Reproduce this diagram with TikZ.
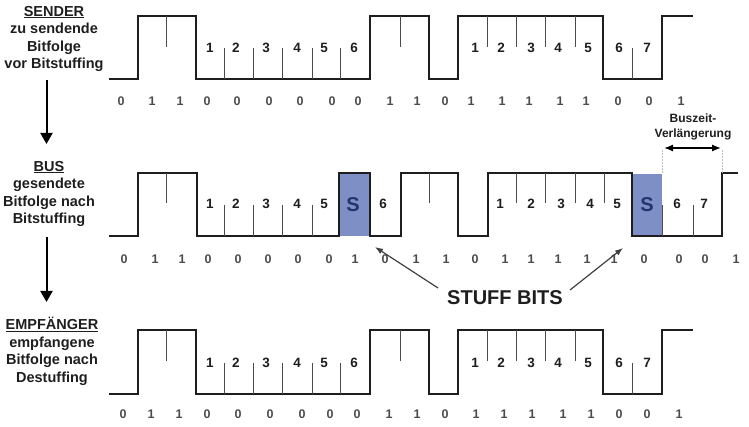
\documentclass[tikz,border=0pt]{standalone}
\usepackage{fontspec}
\setmainfont{Liberation Sans}
\usetikzlibrary{arrows.meta}
\definecolor{stuffblue}{HTML}{7D8FC4}
\definecolor{sink}{HTML}{22356F}
\definecolor{ink}{HTML}{1E1E1E}
\tikzset{
  wave/.style={draw=ink,line width=1.5pt,line join=miter},
  tick/.style={draw=ink!80,line width=1pt},
  num/.style={font=\bfseries\fontsize{13.5}{14}\selectfont,text=ink,inner sep=0pt},
  bit/.style={font=\fontsize{12.5}{13}\selectfont\bfseries,text=ink!80,inner sep=0pt},
  sbit/.style={font=\bfseries\fontsize{20}{20}\selectfont,text=sink,inner sep=0pt},
  sidelabel/.style={font=\bfseries\fontsize{14.5}{17.6}\selectfont,text=ink,align=center,inner sep=0pt},
  flow/.style={draw=black,line width=2pt,-{Triangle[length=11pt,width=12pt]},shorten >=0pt},
  pointer/.style={draw=ink!85,line width=1.2pt,-{Latex[length=8pt,width=6pt]}},
  span/.style={draw=black,line width=1.3pt,{Latex[length=9pt,width=7pt]}-{Latex[length=9pt,width=7pt]}},
  guide/.style={draw=black!25,line width=.5pt,densely dotted}
}
\newcommand{\senderwave}[2]{% high y, low y
  \draw[wave] (109,#2) -- (138,#2) -- (138,#1) -- (196,#1) -- (196,#2) -- (370,#2) -- (370,#1)
     -- (429,#1) -- (429,#2) -- (458,#2) -- (458,#1) -- (603,#1) -- (603,#2) -- (662,#2) -- (662,#1) -- (693,#1);
  \foreach \tx in {166,400,487,516,545,575} \draw[tick] (\tx,#1) -- (\tx,#1+31);
  \foreach \tx in {224,253,282,312,340,632} \draw[tick] (\tx,#2) -- (\tx,#2-31);
}
\begin{document}
\begin{tikzpicture}[x=1pt,y=-1pt]
\useasboundingbox (0,0) rectangle (749,427);
% row 1 and row 3
\senderwave{16}{79}
\senderwave{330}{394}
% row 2
\fill[stuffblue] (339,174) rectangle (370,236);
\fill[stuffblue] (632,174) rectangle (662,236);
\draw[wave] (109,236) -- (138,236) -- (138,173) -- (197,173) -- (197,236) -- (339,236) -- (339,173) -- (370,173) -- (370,236)
  -- (401,236) -- (401,173) -- (458,173) -- (458,236) -- (488,236) -- (488,173) -- (632,173) -- (632,236) -- (722,236) -- (722,173) -- (738,173);
\foreach \tx in {166,429,516,545,575,604} \draw[tick] (\tx,173) -- (\tx,203);
\foreach \tx in {224,253,282,312,662,693} \draw[tick] (\tx,236) -- (\tx,205);
% segment numbers
\foreach \tx/\t [count=\i] in {210/1,236/2,266/3,297/4,324/5,354/6,475/1,501/2,531/3,558/4,588/5,619/6,647/7}
  \node[num] (na\i) at (\tx,48) {\t};
\foreach \tx/\t [count=\i] in {210/1,236/2,266/3,297/4,324/5,383/6,500/1,531/2,561/3,590/4,617/5,677/6,704/7}
  \node[num] (nb\i) at (\tx,204) {\t};
\foreach \tx/\t [count=\i] in {210/1,236/2,266/3,297/4,324/5,354/6,475/1,501/2,531/3,558/4,588/5,619/6,647/7}
  \node[num] (nc\i) at (\tx,363) {\t};
\node[sbit] (s1) at (353,205) {S};
\node[sbit] (s2) at (647,205) {S};
% bit values
\foreach \tx/\t [count=\i] in {121/0,152/1,180/1,207/0,237/0,269/0,300/0,332/0,358/0,390/1,417/1,445/0,471/1,502/1,529/1,560/1,586/1,618/0,649/0,681/1}
  \node[bit] (ba\i) at (\tx,101) {\t};
\foreach \tx/\t [count=\i] in {124/0,155/1,182/1,208/0,238/0,268/0,298/0,329/0,355/1,385/0,416/1,446/1,475/0,505/1,531/1,558/1,587/1,614/1,644/0,679/0,705/0,736/1}
  \node[bit] (bb\i) at (\tx,259) {\t};
\foreach \tx/\t [count=\i] in {123/0,151/1,179/1,207/0,238/0,270/0,302/0,330/0,357/0,389/1,417/1,445/0,476/1,504/1,532/1,563/1,591/1,619/0,647/0,679/1}
  \node[bit] (bc\i) at (\tx,414) {\t};
% side labels
\node[sidelabel] (sender) at (54,39) {\underline{SENDER}\\zu sendende\\Bitfolge\\vor Bitstuffing};
\node[sidelabel] (bus) at (49,194) {\underline{BUS}\\gesendete\\Bitfolge nach\\Bitstuffing};
\node[sidelabel] (empf) at (52,351.5) {\underline{EMPFÄNGER}\\empfangene\\Bitfolge nach\\Destuffing};
\coordinate (a1s) at (46.5,80);
\coordinate (a1e) at (46.5,144);
\coordinate (a2s) at (46.5,237);
\coordinate (a2e) at (46.5,302);
\draw[flow] (a1s) -- (a1e);
\draw[flow] (a2s) -- (a2e);
% extension
\node[font=\bfseries\fontsize{12}{15}\selectfont,text=ink,align=center,inner sep=0pt] (ext) at (693,126.5) {Buszeit-\\Verlängerung};
\coordinate (gl) at (662,150);
\coordinate (gr) at (722,150);
\draw[guide] (gl) -- (662,173);
\draw[guide] (gr) -- (722,173);
\coordinate (sl) at (664,148);
\coordinate (sr) at (721,148);
\draw[span] (sl) -- (sr);
% stuff bits
\node[font=\bfseries\fontsize{20}{20}\selectfont,text=ink,inner sep=0pt] (stuff) at (505,298) {STUFF BITS};
\coordinate (t1) at (375,247);
\coordinate (t2) at (623,248);
\coordinate (f1) at (438,288);
\coordinate (f2) at (570,290);
\draw[pointer] (f1) -- (t1);
\draw[pointer] (f2) -- (t2);
\end{tikzpicture}
\end{document}
